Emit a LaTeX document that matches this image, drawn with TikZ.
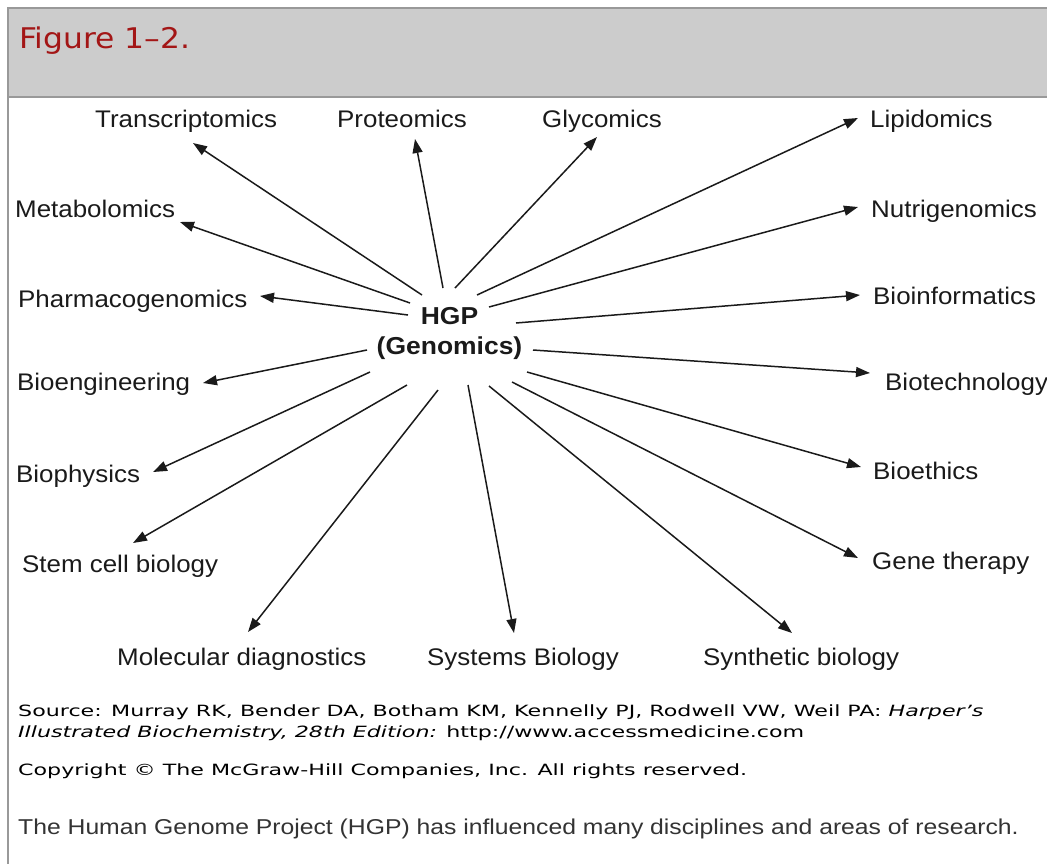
\documentclass[tikz,border=0pt]{standalone}
\usepackage{fontspec}
\setmainfont{Liberation Sans}
\newfontfamily\labfont[FakeStretch=1.08]{Liberation Sans}
\newfontfamily\figfont[FakeStretch=1.1]{DejaVu Sans}
\newfontfamily\srcfont[FakeStretch=1.43]{DejaVu Sans}
\newfontfamily\capfont[FakeStretch=1.15]{Liberation Sans}
\usetikzlibrary{arrows.meta,positioning}
\definecolor{hdrgray}{HTML}{CCCCCC}
\definecolor{framegray}{HTML}{999999}
\definecolor{figred}{HTML}{A31616}
\definecolor{inkgray}{HTML}{1A1A1A}

\begin{document}
\begin{tikzpicture}[x=1pt,y=-1pt,
  lab/.style={font={\labfont\fontsize{24}{28}\selectfont},text=inkgray,inner sep=0pt,anchor=base west},
  hub/.style={font={\labfont\bfseries\fontsize{24.5}{30}\selectfont},text=inkgray,inner sep=0pt,align=center},
  arrow/.style={-{Triangle[length=14pt,width=10pt]},line width=1.5pt,draw=inkgray},
  frame/.style={draw=framegray,line width=2.2pt},
  note/.style={font={\srcfont\fontsize{15.5}{19}\selectfont},text=black,inner sep=0pt,anchor=base west}]
\useasboundingbox (0,0) rectangle (1047,863);
% header bar and frame
\fill[hdrgray] (8,8) rectangle (1050,97);
\draw[frame] (8,866) -- (8,8) -- (1050,8);
\draw[frame] (8,97) -- (1050,97);
\node[font={\figfont\fontsize{28.5}{32}\selectfont},text=figred,inner sep=0pt,anchor=base west] (title) at (19,48) {Figure 1–2.};

% hub
\node[hub] (hgp) at (449.5,333.7) {HGP\\(Genomics)};

% disciplines
\node[lab] (transcr) at (95,127) {Transcriptomics};
\node[lab] (prot) at (337,127) {Proteomics};
\node[lab] (glyc) at (542,127) {Glycomics};
\node[lab] (lipid) at (870,127) {Lipidomics};
\node[lab] (metab) at (15,217) {Metabolomics};
\node[lab] (nutri) at (871,217) {Nutrigenomics};
\node[lab] (pharm) at (18,307) {Pharmacogenomics};
\node[lab] (binfo) at (873,304) {Bioinformatics};
\node[lab] (bengi) at (17,390) {Bioengineering};
\node[lab] (btech) at (885,390) {Biotechnology};
\node[lab] (bphys) at (16,482) {Biophysics};
\node[lab] (bethi) at (873,479) {Bioethics};
\node[lab] (stem) at (22,572) {Stem cell biology};
\node[lab] (gene) at (872,569) {Gene therapy};
\node[lab] (moldx) at (117,665) {Molecular diagnostics};
\node[lab] (sysbio) at (427,665) {Systems Biology};
\node[lab] (synbio) at (703,665) {Synthetic biology};

% where the arrows leave the hub
\coordinate (o-transcr) at (422,295);
\coordinate (o-metab) at (410,303);
\coordinate (o-pharm) at (408,315);
\coordinate (o-prot) at (443,288);
\coordinate (o-glyc) at (455,288);
\coordinate (o-lipid) at (477,295);
\coordinate (o-nutri) at (489,307);
\coordinate (o-binfo) at (516,323);
\coordinate (o-bengi) at (367,350);
\coordinate (o-bphys) at (370,372);
\coordinate (o-stem) at (407,385);
\coordinate (o-moldx) at (438,390);
\coordinate (o-btech) at (533,350);
\coordinate (o-bethi) at (527,372);
\coordinate (o-gene) at (512,382);
\coordinate (o-synbio) at (489,386);
\coordinate (o-sysbio) at (468,385);
% where they stop, next to each label
\coordinate (i-transcr) at (193,143);
\coordinate (i-metab) at (180,222);
\coordinate (i-pharm) at (260,296);
\coordinate (i-prot) at (415,139);
\coordinate (i-glyc) at (597,137);
\coordinate (i-lipid) at (858,118);
\coordinate (i-nutri) at (858,207);
\coordinate (i-binfo) at (860,295);
\coordinate (i-bengi) at (203,383);
\coordinate (i-bphys) at (153,472);
\coordinate (i-stem) at (133,543);
\coordinate (i-moldx) at (248,632);
\coordinate (i-btech) at (870,373);
\coordinate (i-bethi) at (861,467);
\coordinate (i-gene) at (858,558);
\coordinate (i-synbio) at (792,633);
\coordinate (i-sysbio) at (514,633);

\draw[arrow] (o-transcr) -- (i-transcr);
\draw[arrow] (o-metab) -- (i-metab);
\draw[arrow] (o-pharm) -- (i-pharm);
\draw[arrow] (o-prot) -- (i-prot);
\draw[arrow] (o-glyc) -- (i-glyc);
\draw[arrow] (o-lipid) -- (i-lipid);
\draw[arrow] (o-nutri) -- (i-nutri);
\draw[arrow] (o-binfo) -- (i-binfo);
\draw[arrow] (o-bengi) -- (i-bengi);
\draw[arrow] (o-bphys) -- (i-bphys);
\draw[arrow] (o-stem) -- (i-stem);
\draw[arrow] (o-moldx) -- (i-moldx);
\draw[arrow] (o-btech) -- (i-btech);
\draw[arrow] (o-bethi) -- (i-bethi);
\draw[arrow] (o-gene) -- (i-gene);
\draw[arrow] (o-synbio) -- (i-synbio);
\draw[arrow] (o-sysbio) -- (i-sysbio);

% source, copyright and caption
\node[note] (srcA) at (18,716) {Source: Murray RK, Bender DA, Botham KM, Kennelly PJ, Rodwell VW, Weil PA: \textit{Harper’s}};
\node[note] (srcB) at (18,737) {\textit{Illustrated Biochemistry, 28th Edition:} http://www.accessmedicine.com};
\node[note] (copy) at (18,775) {Copyright © The McGraw-Hill Companies, Inc. All rights reserved.};
\node[font={\capfont\fontsize{21.5}{26}\selectfont},text=black!80,inner sep=0pt,anchor=base west] (caption) at (18,834) {The Human Genome Project (HGP) has influenced many disciplines and areas of research.};
\end{tikzpicture}
\end{document}
